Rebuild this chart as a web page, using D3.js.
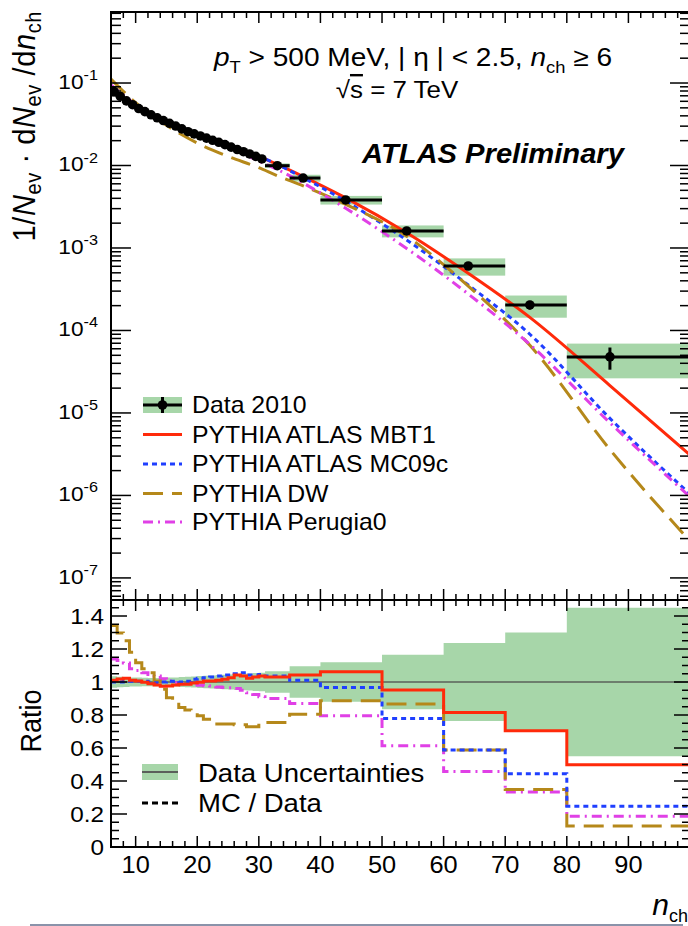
<!DOCTYPE html>
<html>
<head>
<meta charset="utf-8">
<script src="https://cdn.jsdelivr.net/npm/d3@7"></script>
<style>
body{margin:0;background:#fff;}
svg{display:block;}
text{font-family:"Liberation Sans",Arial,Helvetica,sans-serif;fill:#000;}
</style>
</head>
<body>
<script>
// bins of n_ch
var binLo=[6,7,8,9,10,11,12,13,14,15,16,17,18,19,20,21,22,23,24,25,26,27,28,29,30,31,35,40,50,60,70,80];
var binHi=[7,8,9,10,11,12,13,14,15,16,17,18,19,20,21,22,23,24,25,26,27,28,29,30,31,35,40,50,60,70,80,100];
var binMean=[6.5,7.5,8.5,9.5,10.5,11.5,12.5,13.5,14.5,15.5,16.5,17.5,18.5,19.5,20.5,21.5,22.5,23.5,24.5,25.5,26.5,27.5,28.5,29.5,30.5,33,37.2,44.1,54,64,74,87];

// data 2010, 1/Nev dNev/dnch
var dataVal=[0.0789,0.0690,0.0607,0.0546,0.0490,0.0450,0.0412,0.0379,0.0351,0.0325,0.0301,0.0278,0.0257,0.0242,0.0228,0.0215,0.0202,0.0191,0.0179,0.0167,0.0156,0.0147,0.0138,0.0129,0.0120,0.00995,0.00705,0.00382,0.00161,0.000605,0.000204,0.0000478];
var dataStat=[0.01,0.01,0.01,0.01,0.01,0.01,0.01,0.01,0.01,0.01,0.01,0.01,0.01,0.01,0.01,0.01,0.01,0.01,0.01,0.01,0.01,0.01,0.01,0.01,0.01,0.01,0.02,0.03,0.05,0.08,0.12,0.30];
// total uncertainty (relative), green band
var dataSys=[0.035,0.032,0.030,0.028,0.027,0.026,0.025,0.025,0.026,0.027,0.028,0.030,0.032,0.034,0.036,0.038,0.040,0.042,0.044,0.046,0.048,0.050,0.052,0.054,0.056,0.065,0.095,0.12,0.165,0.236,0.30,0.45];

// MC curves, top panel
var mcN=[6,10,15,20,25,30,33,37.2,44.1,54,64,74,87,100];
var mcMBT1=[0.0839,0.0520,0.0330,0.0234,0.0177,0.0129,0.0103,0.00735,0.00405,0.00153,4.93e-4,1.44e-4,2.15e-5,3.1e-6];
var mcMC09c=[0.0832,0.0519,0.0340,0.0240,0.0180,0.0130,0.0103,0.00711,0.00369,1.25e-3,3.56e-4,9.0e-5,8.6e-6,1.04e-6];
var mcDW=[0.1117,0.0577,0.0307,0.0187,0.0129,0.00942,0.00752,0.00567,0.00338,1.39e-3,3.45e-4,6.6e-5,3.6e-6,2.8e-7];
var mcPer=[0.0948,0.0552,0.0341,0.0230,0.0167,0.01135,0.00895,0.00612,0.00303,9.86e-4,2.77e-4,6.78e-5,7.6e-6,9.6e-7];

// MC / Data per bin
var ratMBT1=[1.010,1.018,1.022,1.010,1.006,0.998,0.990,0.982,0.974,0.976,0.982,0.986,0.986,0.994,0.998,1.006,1.006,1.010,1.016,1.026,1.042,1.036,1.022,1.030,1.036,1.030,1.042,1.062,0.952,0.815,0.705,0.498];
var ratMC09c=[1.000,1.000,1.005,1.005,1.005,1.005,1.000,0.995,1.000,1.005,1.005,1.000,1.005,1.016,1.022,1.026,1.030,1.036,1.042,1.042,1.050,1.056,1.042,1.042,1.045,1.036,1.010,0.966,0.779,0.588,0.444,0.247];
var ratDW=[1.343,1.297,1.250,1.180,1.116,1.080,1.056,1.006,0.956,0.905,0.875,0.845,0.830,0.825,0.795,0.775,0.745,0.745,0.745,0.745,0.741,0.741,0.729,0.729,0.755,0.755,0.805,0.886,0.866,0.588,0.349,0.128];
var ratPer=[1.140,1.130,1.115,1.080,1.070,1.056,1.045,1.036,1.020,1.006,0.995,0.990,0.990,0.985,0.980,0.978,0.976,0.970,0.966,0.965,0.960,0.950,0.935,0.925,0.910,0.900,0.869,0.795,0.614,0.458,0.333,0.187];

var xTickLabels=[10,20,30,40,50,60,70,80,90];
var yTopExp=[1,2,3,4,5,6,7];
var yRatLabels=["0","0.2","0.4","0.6","0.8","1","1.2","1.4"];

var width=688, height=926;
var SX=1.08;
var green="#a7d6a9";
var series=[
  {name:"PYTHIA ATLAS MBT1", color:"#ff2a0a", dash:null, top:mcMBT1, rat:ratMBT1},
  {name:"PYTHIA ATLAS MC09c", color:"#1f3fff", dash:"5,4", top:mcMC09c, rat:ratMC09c},
  {name:"PYTHIA DW", color:"#b5881a", dash:"20,9", top:mcDW, rat:ratDW},
  {name:"PYTHIA Perugia0", color:"#e040e6", dash:"10,5,2,5", top:mcPer, rat:ratPer}
];

var svg=d3.select("body").append("svg")
    .attr("width",width)
    .attr("height",height);

var x=d3.scaleLinear().domain([6,100]).range([111,690]);
var yTop=d3.scaleLog().domain([5.4e-8,0.726]).range([600,12]);
var yRat=d3.scaleLinear().domain([0,1.497]).range([847,600]);

var defs=svg.append("defs");
defs.append("clipPath").attr("id","clipTop").append("rect")
    .attr("x",111).attr("y",12).attr("width",579).attr("height",588);
defs.append("clipPath").attr("id","clipRat").append("rect")
    .attr("x",111).attr("y",600).attr("width",579).attr("height",247);

// helper for slightly wide text
function label(parent,px,py,anchor,size,rot){
    var t="translate("+px+","+py+") scale("+SX+",1)"+(rot?" rotate("+rot+")":"");
    return parent.append("g").attr("transform",t)
        .append("text")
        .attr("text-anchor",anchor)
        .attr("font-size",size);
}

var idx=d3.range(binLo.length);

// ---------- top panel ----------
var gTop=svg.append("g").attr("clip-path","url(#clipTop)");

gTop.selectAll("rect.sys")
    .data(idx)
    .enter()
    .append("rect")
    .attr("class","sys")
    .attr("fill",green)
    .attr("x",function(i){return x(binLo[i]);})
    .attr("width",function(i){return x(binHi[i])-x(binLo[i]);})
    .attr("y",function(i){return yTop(dataVal[i]*(1+dataSys[i]));})
    .attr("height",function(i){
        return yTop(dataVal[i]*(1-dataSys[i]))-yTop(dataVal[i]*(1+dataSys[i]));
    });

var mcLine=d3.line()
    .x(function(d){return x(d[0]);})
    .y(function(d){return yTop(d[1]);})
    .curve(d3.curveMonotoneX);

series.forEach(function(s){
    gTop.append("path")
        .attr("d",mcLine(mcN.map(function(n,i){return [n,s.top[i]];})))
        .attr("fill","none")
        .attr("stroke",s.color)
        .attr("stroke-width",3)
        .attr("stroke-dasharray",s.dash);
});

gTop.selectAll("line.xerr")
    .data(idx)
    .enter()
    .append("line")
    .attr("stroke","#000")
    .attr("stroke-width",3)
    .attr("x1",function(i){return x(binLo[i]);})
    .attr("x2",function(i){return x(binHi[i]);})
    .attr("y1",function(i){return yTop(dataVal[i]);})
    .attr("y2",function(i){return yTop(dataVal[i]);});

gTop.selectAll("line.yerr")
    .data(idx)
    .enter()
    .append("line")
    .attr("stroke","#000")
    .attr("stroke-width",3)
    .attr("x1",function(i){return x(binMean[i]);})
    .attr("x2",function(i){return x(binMean[i]);})
    .attr("y1",function(i){return yTop(dataVal[i]*(1+dataStat[i]));})
    .attr("y2",function(i){return yTop(dataVal[i]*(1-dataStat[i]));});

gTop.selectAll("circle")
    .data(idx)
    .enter()
    .append("circle")
    .attr("fill","#000")
    .attr("r",4.8)
    .attr("cx",function(i){return x(binMean[i]);})
    .attr("cy",function(i){return yTop(dataVal[i]);});

// ---------- ratio panel ----------
var gRat=svg.append("g").attr("clip-path","url(#clipRat)");
var stepPts=function(arr){
    var p=idx.map(function(i){return [binLo[i],arr[i]];});
    p.push([binHi[binHi.length-1],arr[arr.length-1]]);
    return p;
};
var bandArea=d3.area()
    .x(function(d){return x(d[0]);})
    .y0(function(d){return yRat(1-d[1]);})
    .y1(function(d){return yRat(1+d[1]);})
    .curve(d3.curveStepAfter);
gRat.append("path")
    .attr("d",bandArea(stepPts(dataSys)))
    .attr("fill",green);
gRat.append("line")
    .attr("x1",x(6)).attr("x2",x(100))
    .attr("y1",yRat(1)).attr("y2",yRat(1))
    .attr("stroke","#5a605a")
    .attr("stroke-width",1.6);

var stepLine=d3.line()
    .x(function(d){return x(d[0]);})
    .y(function(d){return yRat(d[1]);})
    .curve(d3.curveStepAfter);
series.slice().reverse().forEach(function(s){
    gRat.append("path")
        .attr("d",stepLine(stepPts(s.rat)))
        .attr("fill","none")
        .attr("stroke",s.color)
        .attr("stroke-width",3)
        .attr("stroke-dasharray",s.dash);
});

// ---------- frames and ticks ----------
var ax=svg.append("g").attr("stroke","#000");
ax.append("rect").attr("x",111).attr("y",12).attr("width",579).attr("height",588)
    .attr("fill","none").attr("stroke-width",2);
ax.append("rect").attr("x",111).attr("y",600).attr("width",579).attr("height",247)
    .attr("fill","none").attr("stroke-width",2);

d3.range(6,101,2).forEach(function(n){
    var big=(n%10===0), L=big?11:6, px=x(n);
    [[12,1],[600,-1],[600,1],[847,-1]].forEach(function(e){
        ax.append("line").attr("x1",px).attr("x2",px)
            .attr("y1",e[0]).attr("y2",e[0]+e[1]*L).attr("stroke-width",1.5);
    });
});

d3.range(-8,0).forEach(function(k){
    d3.range(1,10).forEach(function(m){
        var v=m*Math.pow(10,k);
        if(v<5.4e-8||v>0.726) return;
        var py=yTop(v), L=(m===1)?20:10;
        ax.append("line").attr("x1",111).attr("x2",111+L).attr("y1",py).attr("y2",py).attr("stroke-width",1.5);
        ax.append("line").attr("x1",690).attr("x2",690-L).attr("y1",py).attr("y2",py).attr("stroke-width",1.5);
    });
});

d3.range(0,31).forEach(function(j){
    var v=j*0.05;
    if(v>1.497) return;
    var big=(j%4===0), py=yRat(v);
    ax.append("line").attr("x1",111).attr("x2",111+(big?16:8)).attr("y1",py).attr("y2",py).attr("stroke-width",1.5);
    ax.append("line").attr("x1",690).attr("x2",690-(big?16:8)).attr("y1",py).attr("y2",py).attr("stroke-width",1.5);
});

// ---------- labels ----------
yTopExp.forEach(function(k){
    var t=label(svg,98,yTop(Math.pow(10,-k))+6,"end",21);
    t.append("tspan").text("10");
    t.append("tspan").attr("font-size",15).attr("dy",-9).text("-"+k);
});
yRatLabels.forEach(function(s){
    label(svg,104,yRat(+s)+8,"end",22.5).text(s);
});
xTickLabels.forEach(function(n){
    label(svg,x(n),873,"middle",23.5).text(n);
});

var nt=svg.append("text").attr("x",688).attr("y",915).attr("text-anchor","end");
nt.append("tspan").attr("font-size",30).attr("font-style","italic").text("n");
nt.append("tspan").attr("font-size",18).attr("dy",7).text("ch");

var yt=label(svg,35,11,"end",29,-90).attr("letter-spacing",0.6);
yt.append("tspan").text("1/");
yt.append("tspan").attr("font-style","italic").text("N");
yt.append("tspan").attr("font-size",20).attr("dy",6).text("ev");
yt.append("tspan").attr("dy",-6).text(" \u00b7 d");
yt.append("tspan").attr("font-style","italic").text("N");
yt.append("tspan").attr("font-size",20).attr("dy",6).text("ev");
yt.append("tspan").attr("dy",-6).text(" /d");
yt.append("tspan").attr("font-style","italic").text("n");
yt.append("tspan").attr("font-size",20).attr("dy",6).text("ch");

label(svg,41,721,"middle",27,-90).text("Ratio");

var a1=label(svg,413,66,"middle",26);
a1.append("tspan").attr("font-style","italic").text("p");
a1.append("tspan").attr("font-size",17).attr("dy",7).text("T");
a1.append("tspan").attr("dy",-7).text(" > 500 MeV, | \u03b7 | < 2.5, ");
a1.append("tspan").attr("font-style","italic").text("n");
a1.append("tspan").attr("font-size",17).attr("dy",7).text("ch");
a1.append("tspan").attr("dy",-7).text(" \u2265 6");

var a2=label(svg,397,98,"middle",24);
a2.append("tspan").text("\u221a");
a2.append("tspan").style("text-decoration","overline").text("s");
a2.append("tspan").text(" = 7 TeV");

label(svg,362,163,"start",27)
    .attr("font-weight","bold")
    .attr("font-style","italic")
    .text("ATLAS Preliminary");

// ---------- legend top ----------
var lg=svg.append("g");
var ly0=405, lstep=29.5;
lg.append("rect").attr("x",143).attr("y",ly0-8).attr("width",39).attr("height",16).attr("fill",green);
lg.append("line").attr("x1",143).attr("x2",182).attr("y1",ly0).attr("y2",ly0).attr("stroke","#000").attr("stroke-width",3);
lg.append("line").attr("x1",162.5).attr("x2",162.5).attr("y1",ly0-8).attr("y2",ly0+8).attr("stroke","#000").attr("stroke-width",3);
lg.append("circle").attr("cx",162.5).attr("cy",ly0).attr("r",4.8).attr("fill","#000");
label(lg,192,ly0+8,"start",23).text("Data 2010");
series.forEach(function(s,i){
    var yy=ly0+lstep*(i+1);
    if(i===3) yy=522;
    lg.append("line").attr("x1",143).attr("x2",182).attr("y1",yy).attr("y2",yy)
        .attr("stroke",s.color).attr("stroke-width",3).attr("stroke-dasharray",s.dash);
    label(lg,192,yy+8,"start",23).text(s.name);
});

// ---------- legend ratio ----------
var lr=svg.append("g");
lr.append("rect").attr("x",142).attr("y",764).attr("width",36).attr("height",16).attr("fill",green);
lr.append("line").attr("x1",142).attr("x2",178).attr("y1",772).attr("y2",772).attr("stroke","#5a605a").attr("stroke-width",2);
label(lr,198,782,"start",25.5).text("Data Uncertainties");
lr.append("line").attr("x1",142).attr("x2",178).attr("y1",803).attr("y2",803)
    .attr("stroke","#000").attr("stroke-width",3).attr("stroke-dasharray","6,4");
label(lr,198,812,"start",25.5).text("MC / Data");

// bottom border line
svg.append("line").attr("x1",30).attr("x2",683).attr("y1",925).attr("y2",925)
    .attr("stroke","#8a93aa").attr("stroke-width",2);
</script>
</body>
</html>
